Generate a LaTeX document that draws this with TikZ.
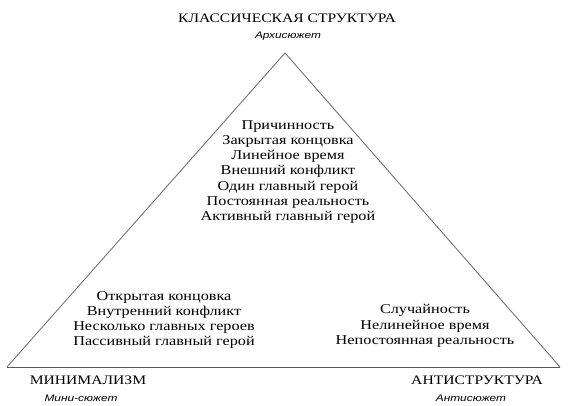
\documentclass[tikz,border=0pt]{standalone}
\usepackage{fontspec}
\setmainfont[FakeStretch=1.2]{Liberation Serif}
\newfontfamily\subfont[FakeStretch=1.25]{Liberation Sans}
\begin{document}
\begin{tikzpicture}[x=1pt,y=-1pt,
  edge/.style={draw=black!55,line width=0.9pt},
  title/.style={font=\fontsize{13}{15}\selectfont,inner sep=0pt},
  sub/.style={font=\subfont\itshape\fontsize{9.5}{11}\selectfont,inner sep=0pt},
  list/.style={font=\fontsize{13.5}{15.3}\selectfont,align=center,inner sep=0pt}]
\useasboundingbox (0,0) rectangle (568,406);
\coordinate (apex) at (285,53);
\coordinate (bl) at (7,367);
\coordinate (br) at (560,367);
\draw[edge] (bl) -- (apex) -- (br);
\draw[edge,draw=black!65] (bl) -- (br);
\node[title] (t1) at (287,18) {КЛАССИЧЕСКАЯ СТРУКТУРА};
\node[sub] (s1) at (288,36) {Архисюжет};
\node[list] (c) at (288,172) {Причинность\\Закрытая концовка\\Линейное время\\Внешний конфликт\\Один главный герой\\Постоянная реальность\\Активный главный герой};
\node[list] (l) at (164,320) {Открытая концовка\\Внутренний конфликт\\Несколько главных героев\\Пассивный главный герой};
\node[list] (r) at (425,326) {Случайность\\Нелинейное время\\Непостоянная реальность};
\node[title] (t2) at (88,380) {МИНИМАЛИЗМ};
\node[sub] (s2) at (81,398) {Мини-сюжет};
\node[title] (t3) at (477,380) {АНТИСТРУКТУРА};
\node[sub] (s3) at (471,398) {Антисюжет};
\end{tikzpicture}
\end{document}
